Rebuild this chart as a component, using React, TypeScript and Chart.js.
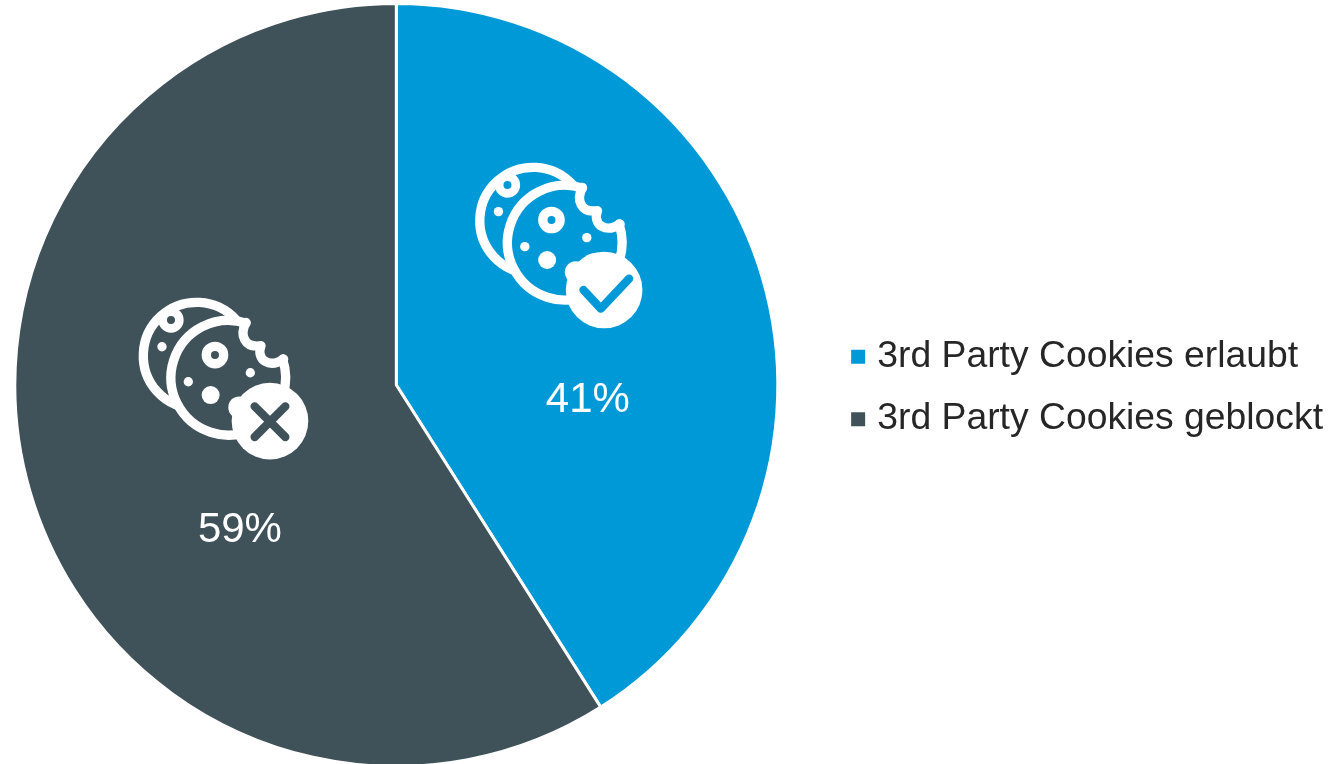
import React, { useEffect, useRef } from "react";
import { Chart, registerables } from "chart.js";

Chart.register(...registerables);

const categories = ["3rd Party Cookies erlaubt", "3rd Party Cookies geblockt"];
const shares = [41, 59];
const sliceColors = ["#0099D8", "#3F5159"];
const labelPlacement: [number, number][] = [
  [0.502, 0.04],
  [-0.41, 0.38],
];
const iconPlacement: [number, number][] = [
  [0.169, -0.616],
  [-0.713, -0.262],
];

const rad = (deg: number) => (deg * Math.PI) / 180;

// Cookie pictogram on a 600x570 grid, finished with a tick or a cross badge.
function drawCookieIcon(ctx: CanvasRenderingContext2D, x: number, y: number, ink: string, kind: "tick" | "cross") {
  const cross = kind === "cross";
  const ring = (cx: number, cy: number, r: number, w: number) => {
    ctx.lineWidth = w;
    ctx.beginPath();
    ctx.arc(cx, cy, r, 0, Math.PI * 2);
    ctx.stroke();
  };
  const dot = (cx: number, cy: number, r: number) => {
    ctx.beginPath();
    ctx.arc(cx, cy, r, 0, Math.PI * 2);
    ctx.fill();
  };
  ctx.save();
  ctx.translate(x, y);
  ctx.scale(1 / 3, 1 / 3);
  ctx.strokeStyle = "#fff";
  ctx.fillStyle = "#fff";
  ctx.lineCap = "round";
  ctx.lineJoin = "round";

  // rear cookie
  ctx.lineWidth = 28;
  ctx.beginPath();
  ctx.arc(217, 212, 160, rad(-42), rad(113), true);
  ctx.stroke();
  ring(140, 105, 25, 26);
  dot(113, 185, 14);

  // front cookie with its bitten edge
  ctx.lineWidth = 28;
  ctx.beginPath();
  ctx.arc(312, 278, 172, rad(-72), rad(-19), true);
  ctx.stroke();
  ctx.beginPath();
  ctx.moveTo(365, 112);
  ctx.bezierCurveTo(345, 150, 360, 190, 410, 182);
  ctx.bezierCurveTo(395, 225, 435, 250, 478, 222);
  ctx.stroke();
  ring(272, 210, 26, 28);
  dot(378, 263, 14);
  dot(192, 290, 14);
  dot(259, 330, 27);

  // badge
  const bx = cross ? 437 : 430;
  const by = cross ? 408 : 420;
  dot(bx, by, 115);
  dot(345, 367, 33);
  dot(400, 348, 38);
  ctx.strokeStyle = ink;
  ctx.lineWidth = 25;
  ctx.beginPath();
  if (cross) {
    ctx.moveTo(bx - 46, by - 44);
    ctx.lineTo(bx + 46, by + 48);
    ctx.moveTo(bx + 46, by - 44);
    ctx.lineTo(bx - 46, by + 48);
  } else {
    ctx.moveTo(368, 420);
    ctx.lineTo(420, 476);
    ctx.lineTo(505, 386);
  }
  ctx.stroke();
  ctx.restore();
}

const sliceOverlay = {
  id: "sliceOverlay",
  // Nudge the legend block slightly off the pie's vertical centre.
  afterLayout(chart: any) {
    chart.legend.top += 3;
    chart.legend.bottom += 3;
    chart.legend.left -= 1;
  },
  afterDatasetsDraw(chart: Chart) {
    const { ctx } = chart;
    chart.getDatasetMeta(0).data.forEach((el: any, i: number) => {
      const { x, y, outerRadius } = el.getProps(["x", "y", "outerRadius"], true);
      const ix = x + iconPlacement[i][0] * outerRadius;
      const iy = y + iconPlacement[i][1] * outerRadius;
      drawCookieIcon(ctx, ix, iy, sliceColors[i], i === 0 ? "tick" : "cross");
      ctx.save();
      ctx.fillStyle = "#fff";
      ctx.font = '42px "Liberation Sans"';
      ctx.textAlign = "center";
      ctx.textBaseline = "middle";
      ctx.fillText(`${shares[i]}%`, x + labelPlacement[i][0] * outerRadius, y + labelPlacement[i][1] * outerRadius);
      ctx.restore();
    });
  },
};

export default function App() {
  const canvasRef = useRef<HTMLCanvasElement>(null);

  useEffect(() => {
    document.body.style.margin = "0";
    const chart = new Chart(canvasRef.current!, {
      type: "pie",
      data: {
        labels: categories,
        datasets: [
          {
            data: shares,
            backgroundColor: sliceColors,
            borderColor: "#fff",
            borderWidth: 3,
            hoverOffset: 0,
          },
        ],
      },
      options: {
        responsive: false,
        animation: false,
        layout: { padding: { left: 1, right: 0, top: 2, bottom: 2 } },
        plugins: {
          tooltip: { enabled: false },
          legend: {
            position: "right",
            labels: {
              usePointStyle: true,
              pointStyle: "rect",
              boxWidth: 1,
              boxHeight: 14,
              padding: 25,
              color: "#262626",
              font: { family: '"Liberation Sans"', size: 37.3 },
              generateLabels(c: Chart) {
                return Chart.overrides.pie.plugins.legend.labels
                  .generateLabels(c)
                  .map((item: any) => ({ ...item, lineWidth: 0 }));
              },
            },
          },
        },
      },
      plugins: [sliceOverlay],
    });
    return () => chart.destroy();
  }, []);

  return (
    <div style={{ width: 1335, height: 764, overflow: "hidden", position: "relative", background: "#fff" }}>
      <canvas ref={canvasRef} width={1376} height={770} style={{ display: "block", marginLeft: -42 }} />
    </div>
  );
}
